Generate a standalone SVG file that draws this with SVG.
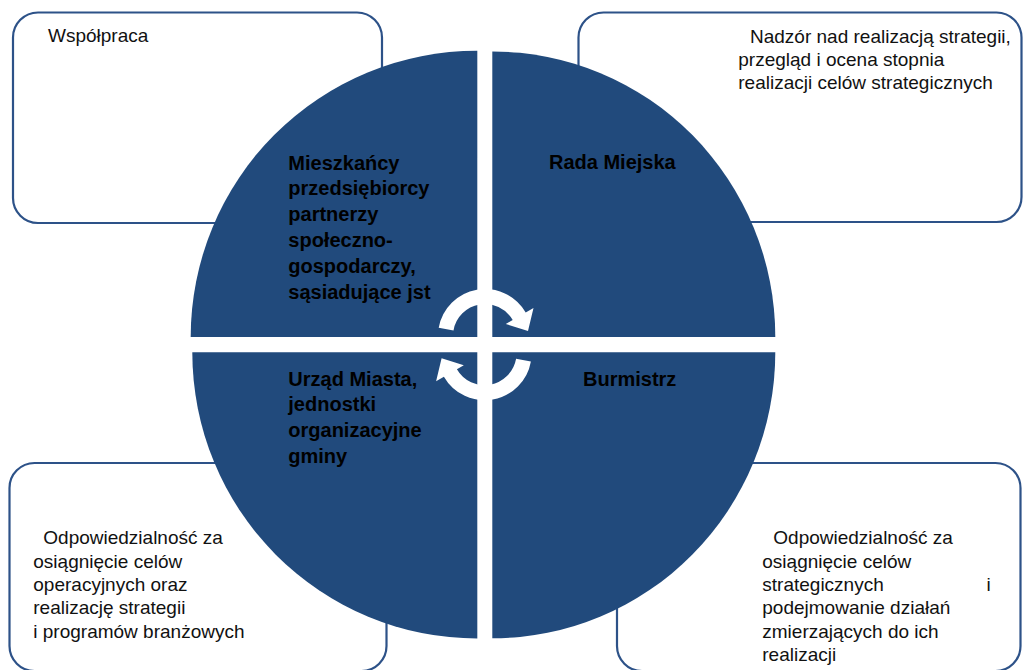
<svg xmlns="http://www.w3.org/2000/svg" width="1024" height="670" viewBox="0 0 1024 670">
<style>
.box{fill:#ffffff;stroke:#2d5288;stroke-width:2.2}
.q{fill:#214a7c}
.t{font-family:"Liberation Sans",Arial,sans-serif;font-size:19px;fill:#111111}
.b{font-family:"Liberation Sans",Arial,sans-serif;font-size:20px;font-weight:bold;fill:#000000}
.arr{fill:#ffffff}
</style>
<rect width="1024" height="670" fill="#ffffff"/>
<g id="box-wspolpraca">
<rect class="box" x="13" y="12.5" width="369" height="210.5" rx="25"/>
<text class="t" x="48" y="42">Współpraca</text>
</g>
<g id="box-nadzor">
<rect class="box" x="578.5" y="12.5" width="443" height="209.5" rx="25"/>
<text class="t"><tspan x="750" y="42.7">Nadzór nad realizacją strategii,</tspan><tspan x="738.3" y="66">przegląd i ocena stopnia</tspan><tspan x="738.3" y="89.3">realizacji celów strategicznych</tspan></text>
</g>
<g id="box-odpowiedzialnosc-operacyjne">
<rect class="box" x="9.5" y="463" width="377" height="208" rx="25"/>
<text class="t"><tspan x="43.3" y="544.3">Odpowiedzialność za</tspan><tspan x="33.3" y="567.6">osiągnięcie celów</tspan><tspan x="33.3" y="590.9">operacyjnych oraz</tspan><tspan x="33.3" y="614.2">realizację strategii</tspan><tspan x="33.3" y="637.5">i programów branżowych</tspan></text>
</g>
<g id="box-odpowiedzialnosc-strategiczne">
<rect class="box" x="617" y="463" width="403.5" height="208" rx="25"/>
<text class="t"><tspan x="773.3" y="544.3">Odpowiedzialność za</tspan><tspan x="762.3" y="567.6">osiągnięcie celów</tspan><tspan x="762.3" y="590.9">strategicznych</tspan><tspan x="986.5" y="590.9">i</tspan><tspan x="762.3" y="614.2">podejmowanie działań</tspan><tspan x="762.3" y="637.5">zmierzających do ich</tspan><tspan x="762.3" y="660.8">realizacji</tspan></text>
</g>
<g id="q-mieszkancy">
<path class="q" d="M477.3 337 L190.7 337 A286.6 286.3 0 0 1 477.3 50.7 Z"/>
<text class="b"><tspan x="288.3" y="169.5">Mieszkańcy</tspan><tspan x="288.3" y="195.3">przedsiębiorcy</tspan><tspan x="288.3" y="221.1">partnerzy</tspan><tspan x="288.3" y="246.9">społeczno-</tspan><tspan x="288.3" y="272.7">gospodarczy,</tspan><tspan x="288.3" y="298.5">sąsiadujące jst</tspan></text>
</g>
<g id="q-rada">
<path class="q" d="M492.3 337 L492.3 51.5 A283 285.5 0 0 1 775.3 337 Z"/>
<text class="b" x="549" y="168.5">Rada Miejska</text>
</g>
<g id="q-urzad">
<path class="q" d="M477.3 352.3 L477.3 638.5 A285 286.2 0 0 1 192.3 352.3 Z"/>
<text class="b"><tspan x="288.3" y="385.5">Urząd Miasta,</tspan><tspan x="288.3" y="411.3">jednostki</tspan><tspan x="288.3" y="437.1">organizacyjne</tspan><tspan x="288.3" y="462.9">gminy</tspan></text>
</g>
<g id="q-burmistrz">
<path class="q" d="M492.3 352.3 L775.3 352.3 A283 286 0 0 1 492.3 638.3 Z"/>
<text class="b" x="583" y="385.5">Burmistrz</text>
</g>
<g id="connectors">
<path class="arr" d="M438.7 327.8 A47 47 0 0 1 525.7 312.5 L533.5 308 L528 331 L505.8 324 L512.7 320 A32 32 0 0 0 453.5 330.4 Z"/>
<path class="arr" d="M438.7 327.8 A47 47 0 0 1 525.7 312.5 L533.5 308 L528 331 L505.8 324 L512.7 320 A32 32 0 0 0 453.5 330.4 Z" transform="rotate(180 484.8 344.6)"/>
</g>
</svg>
